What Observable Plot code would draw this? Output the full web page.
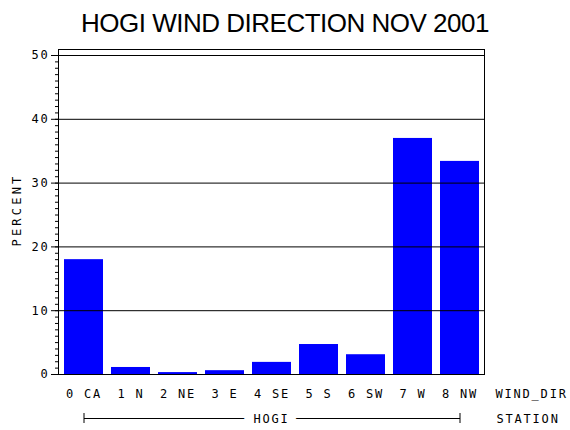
<!DOCTYPE html>
<html><head><meta charset="utf-8">
<script src="https://cdn.jsdelivr.net/npm/d3@7"></script>
<script src="https://cdn.jsdelivr.net/npm/@observablehq/plot@0.6"></script>
<style>
body{margin:0;background:#fff;}
#title{width:570px;height:40px;line-height:46px;text-align:center;font-family:"Liberation Sans",Arial,sans-serif;font-size:26px;letter-spacing:-0.5px;color:#000;white-space:nowrap;overflow:visible;}
#chart svg text{letter-spacing:1.8px;}
#chart svg g.ylab text{letter-spacing:3.2px;}
</style></head><body>
<div id="title">HOGI WIND DIRECTION NOV 2001</div>
<div id="chart"></div>
<script>
const categories = ["0 CA","1 N","2 NE","3 E","4 SE","5 S","6 SW","7 W","8 NW"];
const percent = [18.0,1.1,0.3,0.6,1.9,4.7,3.1,37.0,33.4];
const yTicks = [0,10,20,30,40,50];
const gridLines = [10,20,30,40,50];
const station = "HOGI";
const xVarLabel = "WIND_DIR";
const groupLabel = "STATION";
const yLabel = "PERCENT";

const data = categories.map((c,i)=>({dir:c, pct:percent[i]}));
const font = "'DejaVu Sans Mono', monospace";
const first = categories[0], last = categories[categories.length-1];
const plot = Plot.plot({
  width:570, height:390, marginTop:9, marginLeft:58, marginRight:86, marginBottom:56,
  style:{fontFamily:font, fontSize:"12px", color:"#000", background:"#fff", overflow:"visible"},
  x:{type:"band", domain:categories, paddingInner:0.175, paddingOuter:0.1},
  y:{domain:[0,50], insetTop:6},
  marks:[
    Plot.barY(data,{x:"dir", y:"pct", fill:"#0000ff"}),
    Plot.ruleY(gridLines,{stroke:"#000", strokeWidth:1}),
    Plot.frame({stroke:"#000"}),
    Plot.axisY(d3.range(0,51,1),{tickSize:3, tickFormat:()=>"", label:null}),
    Plot.axisY(yTicks,{tickSize:7, tickPadding:2, label:null}),
    Plot.axisX({tickSize:0, tickPadding:15, label:null}),
    Plot.text([xVarLabel],{frameAnchor:"bottom-right", textAnchor:"start", lineAnchor:"top", dx:11, dy:15}),
    Plot.text([groupLabel],{frameAnchor:"bottom-right", textAnchor:"start", lineAnchor:"top", dx:12, dy:40}),
    Plot.link([station],{x1:()=>first, x2:()=>last, y1:()=>0, y2:()=>0, dy:44, stroke:"#000", strokeWidth:1}),
    Plot.ruleX([first,last],{x:d=>d, y1:()=>0, y2:()=>0, insetTop:-5, insetBottom:-5, dy:44, stroke:"#000"}),
    Plot.text([station],{frameAnchor:"bottom", lineAnchor:"top", dy:40, fill:"#000", stroke:"#fff", strokeWidth:20}),
    Plot.text([yLabel],{frameAnchor:"left", textAnchor:"middle", rotate:-90, dx:-41, dy:-2, className:"ylab"})
  ]
});
document.getElementById("chart").appendChild(plot);
</script>
</body></html>
